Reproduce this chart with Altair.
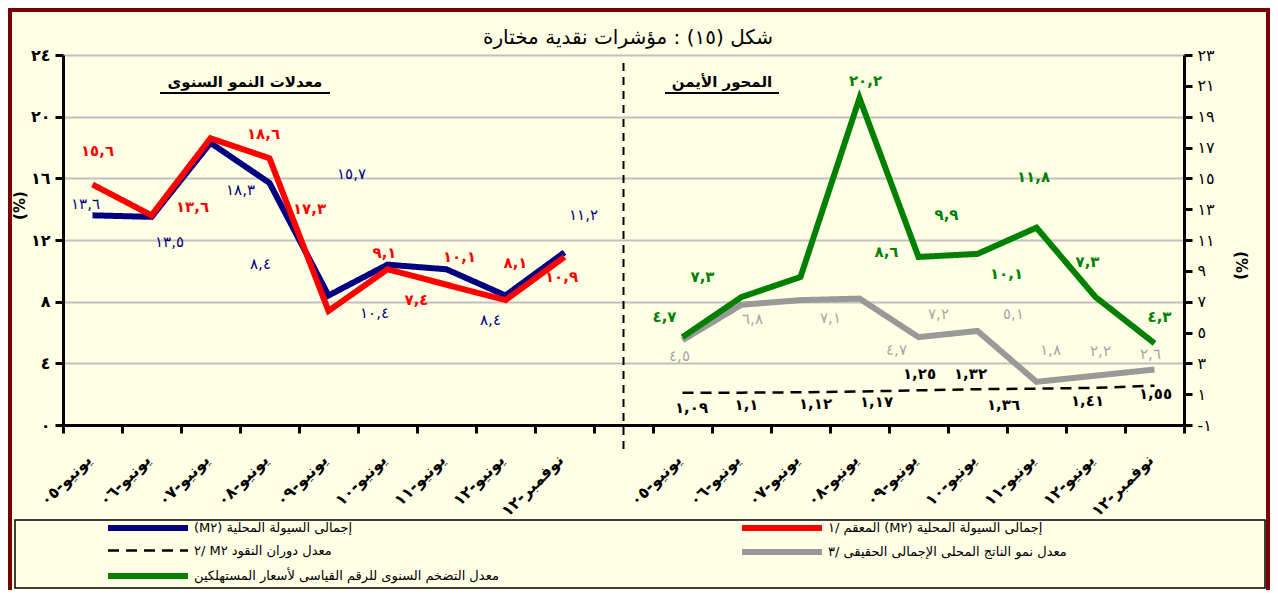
import altair as alt
import pandas as pd

# ---------------- data ----------------
categories = ["يونيو-٠٥", "يونيو-٠٦", "يونيو-٠٧", "يونيو-٠٨", "يونيو-٠٩",
              "يونيو-١٠", "يونيو-١١", "يونيو-١٢", "نوفمبر-١٢"]

m2 = [13.6, 13.5, 18.3, 15.7, 8.4, 10.4, 10.1, 8.4, 11.2]
m2_adj = [15.6, 13.6, 18.6, 17.3, 7.4, 10.1, 9.1, 8.1, 10.9]
cpi = [4.7, 7.3, 8.6, 20.2, 9.9, 10.1, 11.8, 7.3, 4.3]
gdp = [4.5, 6.8, 7.1, 7.2, 4.7, 5.1, 1.8, 2.2, 2.6]
velocity = [1.09, 1.1, 1.12, 1.17, 1.25, 1.32, 1.36, 1.41, 1.55]

series_names = [
    "إجمالى السيولة المحلية (M٢)",
    "إجمالى السيولة المحلية (M٢) المعقم /١",
    "معدل دوران النقود M٢   /٢",
    "معدل نمو الناتج المحلى الإجمالى الحقيقى /٣",
    "معدل التضخم السنوى للرقم القياسى لأسعار المستهلكين",
]
series_colors = ["#000080", "#FF0000", "#000000", "#999999", "#008000"]
series_widths = [6, 6, 2.5, 6, 6]

title_text = "شكل (١٥) : مؤشرات نقدية مختارة"
left_panel_title = "معدلات النمو السنوى"
right_panel_title = "المحور الأيمن"

left_ticks = [0, 4, 8, 12, 16, 20, 24]
right_ticks = [-1, 1, 3, 5, 7, 9, 11, 13, 15, 17, 19, 21, 23]

# label placement offsets (pixels) -- styling only
blue_dx = [-7, 18, 30, 82, -68, -13, 0, -15, 19]
blue_dy = [-11, 25, 47, -9, -32, 48, 0, 24, -37]
blue_shown = [1, 1, 1, 1, 1, 1, 0, 1, 1]
red_dx = [5, 41, 53, 40, 88, 72, -62, 10, -3]
red_dy = [-34, -8, -4, 51, -11, -12, -32, -37, 20]
green_dx = [-18, -39, 86, 6, 28, 29, -3, -8, 5]
green_dy = [-20, -20, -25, -17, -42, 20, -51, -35, -26]
gray_dx = [-3, 11, 30, 79, -22, 36, 14, 5, -4]
gray_dy = [16, 14, 18, 15, 13, -17, -32, -25, -16]
vel_dx = [9, 5, 15, 17, 1, -7, -33, -8, 1]
vel_dy = [15, 12, 12, 10, -16, -15, 16, 13, 8]

# ---------------- helpers ----------------
AR = str.maketrans("0123456789", "٠١٢٣٤٥٦٧٨٩")


def ar(s):
    return str(s).translate(AR)


def lab(v):
    return ar(str(v).replace(".", ","))


def rtl(s):
    return "\u202b" + s + "\u202c"


legend_names = [rtl(s) for s in series_names]

gap_key = " "
right_keys = [c + "\u200b" for c in categories]
x_domain = categories + [gap_key] + right_keys


def frame(keys, values, idx, dx, dy, shown=None):
    return pd.DataFrame({
        "cat": keys,
        "value": values,
        "series": legend_names[idx],
        "label": [lab(v) if (shown is None or shown[i]) else "" for i, v in enumerate(values)],
        "dx": dx,
        "dy": dy,
    })


blue_df = frame(categories, m2, 0, blue_dx, blue_dy, blue_shown)
red_df = frame(categories, m2_adj, 1, red_dx, red_dy)
vel_df = frame(right_keys, velocity, 2, vel_dx, vel_dy)
gray_df = frame(right_keys, gdp, 3, gray_dx, gray_dy)
green_df = frame(right_keys, cpi, 4, green_dx, green_dy)

FONT = "DejaVu Sans"

x_axis = alt.Axis(tickBand="extent", labelAngle=315, labelAlign="right", labelBaseline="middle",
                  labelFontSize=16, labelFontWeight="bold", labelPadding=24, labelOffset=-4,
                  labelColor="black", labelFont=FONT, labelOverlap=False,
                  tickSize=8, tickWidth=3, tickColor="black",
                  domainColor="black", domainWidth=3, grid=False)


def X():
    return alt.X("cat:N", bandPosition=0.5, axis=x_axis, title=None,
                 scale=alt.Scale(type="band", domain=x_domain, paddingInner=0, paddingOuter=0))


def num_expr(vals):
    return "".join(f"datum.value == {v} ? '{ar(v)}' : " for v in vals) + "''"


yl_axis = alt.Axis(values=left_ticks, labelExpr=num_expr(left_ticks), orient="left",
                   grid=True, gridColor="#C0C0C0", gridWidth=2,
                   domainColor="black", domainWidth=3, tickColor="black", tickWidth=3, tickSize=8,
                   labelFontSize=16, labelFontWeight="bold", labelColor="black", labelPadding=5,
                   labelFont=FONT,
                   titleFontSize=15, titleFontWeight="bold", titleColor="black",
                   titleAngle=270, titleX=-44, titleY=150, titleAlign="center", titleBaseline="middle")
yr_axis = alt.Axis(values=right_ticks, labelExpr=num_expr(right_ticks), orient="right",
                   grid=False,
                   domainColor="black", domainWidth=3, tickColor="black", tickWidth=3, tickSize=8,
                   labelFontSize=16, labelColor="black", labelPadding=5, labelFont=FONT,
                   titleFontSize=15, titleFontWeight="bold", titleColor="black",
                   titleAngle=90, titleX=56, titleY=210, titleAlign="center", titleBaseline="middle")


def YL():
    return alt.Y("value:Q", scale=alt.Scale(domain=[0, 24], nice=False, zero=False), axis=yl_axis, title="(%)")


def YR():
    return alt.Y("value:Q", scale=alt.Scale(domain=[-1, 23], nice=False, zero=False), axis=yr_axis, title="(%)")


legend = alt.Legend(title=None, orient="none", legendX=77, legendY=465, columns=2, direction="horizontal",
                    columnPadding=231, rowPadding=0,
                    symbolType="M-8,0L8,0", symbolSize=100,
                    labelFontSize=13, labelFont=FONT, labelColor="black", labelLimit=700, labelOffset=38)
color_scale = alt.Scale(domain=legend_names, range=series_colors)
dash_scale = alt.Scale(domain=legend_names, range=[[1, 0], [1, 0], [11, 7], [1, 0], [1, 0]])
width_scale = alt.Scale(type="ordinal", domain=legend_names, range=series_widths)


def line(df, Y):
    return alt.Chart(df).mark_line().encode(
        x=X(), y=Y(),
        color=alt.Color("series:N", scale=color_scale, legend=legend),
        strokeDash=alt.StrokeDash("series:N", scale=dash_scale, legend=legend),
        strokeWidth=alt.StrokeWidth("series:N", scale=width_scale, legend=legend),
    )


def labels(df, Y, color, weight):
    return alt.Chart(df).mark_text(fontSize=15, fontWeight=weight, color=color, font=FONT,
                                   align="center", baseline="middle",
                                   dx=alt.expr("datum.dx"), dy=alt.expr("datum.dy")).encode(
        x=X(), y=Y(), text="label:N")


left = alt.layer(
    labels(red_df, YL, "#FF0000", "bold"),
    labels(blue_df, YL, "#000080", "normal"),
    line(blue_df, YL),
    line(red_df, YL),
)

right = alt.layer(
    labels(gray_df, YR, "#A6A6A6", "normal"),
    labels(green_df, YR, "#008000", "bold"),
    labels(vel_df, YR, "#000000", "bold"),
    line(vel_df, YR),
    line(gray_df, YR),
    line(green_df, YR),
)

one = pd.DataFrame({"cat": [gap_key]})
divider = alt.Chart(one).mark_rule(color="black", strokeWidth=2, strokeDash=[8, 6]).encode(
    x=X(), y=alt.value(8), y2=alt.value(400))

title_mark = alt.Chart(one).mark_text(fontSize=20, color="black", font=FONT).encode(
    x=alt.value(565), y=alt.value(-17), text=alt.value(title_text))
ptl = alt.Chart(one).mark_text(fontSize=15, fontWeight="bold", color="black", font=FONT).encode(
    x=alt.value(182), y=alt.value(27), text=alt.value(left_panel_title))
ptl_u = alt.Chart(one).mark_rule(color="black", strokeWidth=2).encode(
    x=alt.value(97), x2=alt.value(267), y=alt.value(38))
ptr = alt.Chart(one).mark_text(fontSize=15, fontWeight="bold", color="black", font=FONT).encode(
    x=alt.value(659), y=alt.value(27), text=alt.value(right_panel_title))
ptr_u = alt.Chart(one).mark_rule(color="black", strokeWidth=2).encode(
    x=alt.value(602), x2=alt.value(716), y=alt.value(38))

legend_box = alt.Chart(one).mark_rect(fillOpacity=0, stroke="black", strokeWidth=1.5).encode(
    x=alt.value(-48), x2=alt.value(1202), y=alt.value(465), y2=alt.value(533))

border_color = "#7A0000"
b_left = alt.Chart(one).mark_rule(color=border_color, strokeWidth=4).encode(
    x=alt.value(-53), y=alt.value(-47), y2=alt.value(535))
b_right = alt.Chart(one).mark_rule(color=border_color, strokeWidth=4).encode(
    x=alt.value(1205), y=alt.value(-47), y2=alt.value(535))
b_top = alt.Chart(one).mark_rule(color=border_color, strokeWidth=4).encode(
    x=alt.value(-55), x2=alt.value(1207), y=alt.value(-45))

deco = alt.layer(divider, title_mark, ptl, ptl_u, ptr, ptr_u, legend_box, b_left, b_right, b_top)

chart = alt.layer(left, right, deco).resolve_scale(y="independent").properties(
    width=1121, height=370,
    padding={"left": 55, "top": 47, "right": 86, "bottom": 165},
    autosize=alt.AutoSizeParams(type="none"),
    background="#FFFFE6",
).configure_view(fill="white", stroke=None).configure(font=FONT)

chart.save("out.html", embed_options={"renderer": "svg", "actions": False})
